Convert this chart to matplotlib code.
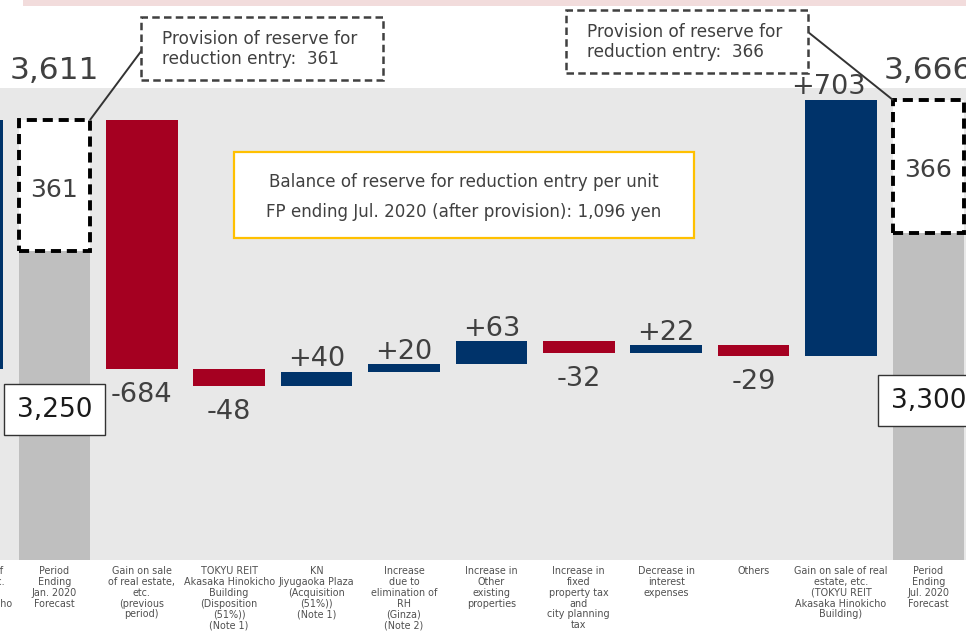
import numpy as np
import matplotlib
matplotlib.use("Agg")
import matplotlib.pyplot as plt
from matplotlib.patches import Rectangle
from matplotlib.transforms import blended_transform_factory

# ---- data -------------------------------------------------------------
categories = [
    "Gain on sale of\nreal estate, etc.\n(TOKYU REIT\nAkasaka Hinokicho\nBuilding)",
    "Period\nEnding\nJan. 2020\nForecast",
    "Gain on sale\nof real estate,\netc.\n(previous\nperiod)",
    "TOKYU REIT\nAkasaka Hinokicho\nBuilding\n(Disposition\n(51%))\n(Note 1)",
    "KN\nJiyugaoka Plaza\n(Acquisition\n(51%))\n(Note 1)",
    "Increase\ndue to\nelimination of\nRH\n(Ginza)\n(Note 2)",
    "Increase in\nOther\nexisting\nproperties",
    "Increase in\nfixed\nproperty tax\nand\ncity planning\ntax",
    "Decrease in\ninterest\nexpenses",
    "Others",
    "Gain on sale of real\nestate, etc.\n(TOKYU REIT\nAkasaka Hinokicho\nBuilding)",
    "Period\nEnding\nJul. 2020\nForecast",
]
prev_step = 684                 # last change before the Jan. 2020 total
jan_base, jan_reserve = 3250, 361
steps = [-684, -48, 40, 20, 63, -32, 22, -29, 703]
jul_base, jul_reserve = 3300, 366
balance_note = ["Balance of reserve for reduction entry per unit",
                "FP ending Jul. 2020 (after provision): 1,096 yen"]

# ---- style ------------------------------------------------------------
RED = "#a50021"
BLUE = "#00336a"
GREY_BAR = "#bfbfbf"
PANEL = "#e8e8e8"
TXT = "#404040"
W, H = 966, 632

plt.rcParams["font.family"] = ["DejaVu Sans"]

fig = plt.figure(figsize=(W / 100, H / 100), dpi=100)
ax = fig.add_axes([0, 72 / H, 1, 472 / H])
ax.set_facecolor(PANEL)
for s in ax.spines.values():
    s.set_visible(False)
ax.set_xticks([])
ax.set_yticks([])
ax.set_xlim(0.378, 11.43)
ax.set_ylim(2402, 3698)


def fig_px(x, y):
    """figure pixel (from top-left) -> figure fraction"""
    return x / W, 1 - y / H


# light strip along the top edge
fig.patches.append(Rectangle(fig_px(23, 6), (W - 23) / W, 6 / H,
                             transform=fig.transFigure, fc="#f2dcdc",
                             ec="none", zorder=0))

bw = 0.82
x = np.arange(len(categories))
jan_total = jan_base + jan_reserve
jul_total = jul_base + jul_reserve

# previous change leading into the Jan. total
ax.bar(x[0], prev_step, bottom=jan_total - prev_step, width=bw,
       color=BLUE if prev_step > 0 else RED, zorder=2)
ax.annotate(f"{prev_step:+d}", (x[0], jan_total), xytext=(0, 4),
            textcoords="offset points", ha="center", va="baseline",
            fontsize=19.5, color=TXT)

# totals: grey base + dashed reserve box
for xi, base, res in [(x[1], jan_base, jan_reserve),
                      (x[11], jul_base, jul_reserve)]:
    ax.bar(xi, base, width=bw, color=GREY_BAR, zorder=2)
    ax.bar(xi, res, bottom=base, width=bw, color="white",
           edgecolor="black", linewidth=2.8, linestyle=(0, (2.6, 1.5)),
           zorder=3)
    ax.annotate(f"{res}", (xi, base + res / 2), xytext=(0, -3),
                textcoords="offset points", ha="center", va="center",
                fontsize=18, color=TXT, zorder=4)
    ax.annotate(f"{base:,}", (xi, (ax.get_ylim()[0] + base) / 2),
                xytext=(0, -3), textcoords="offset points", ha="center",
                va="center", fontsize=19, color="#1a1a1a", zorder=4,
                bbox=dict(boxstyle="square,pad=0.47", fc="white",
                          ec="#333333", lw=1.0))
    ax.text(xi, 1.038, f"{base + res:,}", transform=blended_transform_factory(
        ax.transData, ax.transAxes), ha="center", va="center",
        fontsize=22.5, color=TXT, clip_on=False)

# waterfall steps
level = np.concatenate([[jan_total], jan_total + np.cumsum(steps)])
for i, d in enumerate(steps):
    xi = x[2 + i]
    lo = min(level[i], level[i + 1])
    ax.bar(xi, abs(d), bottom=lo, width=bw,
           color=BLUE if d > 0 else RED, zorder=2)
    if d > 0:
        dx = -9 if d == max(steps) else 0
        ax.annotate(f"+{d}", (xi, level[i + 1]), xytext=(dx, 3.8),
                    textcoords="offset points", ha="center",
                    va="baseline", fontsize=19.5, color=TXT)
    else:
        ax.annotate(f"{d}", (xi, level[i + 1]), xytext=(0, -9.5),
                    textcoords="offset points", ha="center", va="top",
                    fontsize=19.5, color=TXT)

# category labels under the panel
trans = blended_transform_factory(ax.transData, ax.transAxes)
for xi, lab in zip(x, categories):
    ax.text(xi, -0.013, lab, transform=trans, ha="center", va="top",
            fontsize=6.9, color="#505050", linespacing=1.1, clip_on=False)

# callouts for the reserve provisions
def callout(x0, y0, x1, y1, text, tx, ty):
    fx0, fy1 = fig_px(x0, y1)
    fig.patches.append(Rectangle((fx0, fy1), (x1 - x0) / W, (y1 - y0) / H,
                                 transform=fig.transFigure, fc="white",
                                 ec="#404040", lw=1.8,
                                 ls=(0, (3.0, 1.7)), zorder=5))
    fig.text(*fig_px(tx, ty), text, ha="left", va="center", fontsize=12.2,
             color=TXT, linespacing=1.2, zorder=6)


callout(141, 17, 383, 80,
        f"Provision of reserve for\nreduction entry:  {jan_reserve}", 162, 49)
ax.annotate("", xy=(x[1] + bw / 2, jan_total), xycoords="data",
            xytext=fig_px(142, 50), textcoords="figure fraction",
            arrowprops=dict(arrowstyle="-", color="#333333", lw=1.4,
                            shrinkA=0, shrinkB=0), annotation_clip=False)

callout(566, 10, 808, 73,
        f"Provision of reserve for\nreduction entry:  {jul_reserve}", 587, 42)
ax.annotate("", xy=(x[11] - bw / 2, jul_total), xycoords="data",
            xytext=fig_px(808, 32), textcoords="figure fraction",
            arrowprops=dict(arrowstyle="-", color="#333333", lw=1.4,
                            shrinkA=0, shrinkB=0), annotation_clip=False)

# balance note
fx0, fy1 = fig_px(234, 238)
ax.add_patch(Rectangle((fx0, fy1), (694 - 234) / W, (238 - 152) / H,
                       transform=fig.transFigure, fc="white", ec="#ffc000",
                       lw=1.6, zorder=5))
fig.text(*fig_px(464, 182), balance_note[0], ha="center", va="center",
         fontsize=12.1, color=TXT, zorder=6)
fig.text(*fig_px(464, 212), balance_note[1], ha="center", va="center",
         fontsize=12.1, color=TXT, zorder=6)

fig.savefig("out.png", dpi=100)
